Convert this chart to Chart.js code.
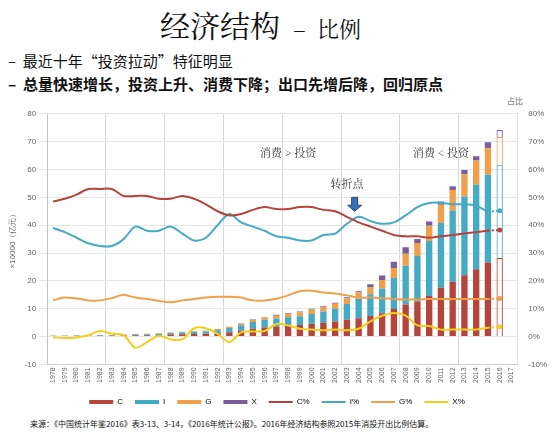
<!DOCTYPE html>
<html><head><meta charset="utf-8">
<script src="https://cdn.jsdelivr.net/npm/chart.js@4/dist/chart.umd.min.js"></script>
<style>
body{margin:0;width:556px;height:432px;background:#fff;font-family:"Noto Sans CJK SC",sans-serif;position:relative;overflow:hidden}
.t{position:absolute;white-space:nowrap;color:#111}
#wrap{position:absolute;left:0;top:106px;width:556px;height:310px}
</style></head><body>
<div class="t" style="left:160px;top:2px;font-size:30px;font-family:'Noto Serif CJK SC','Noto Sans CJK SC';">经济结构 <span style="font-size:22px">&nbsp;–&nbsp; 比例</span></div>
<div class="t" style="left:8px;top:50px;font-size:15px;">–&nbsp;&nbsp;最近十年“投资拉动”特征明显</div>
<div class="t" style="left:8px;top:73px;font-size:15px;font-weight:bold;">–&nbsp;&nbsp;总量快速增长，投资上升、消费下降；出口先增后降，回归原点</div>
<div class="t" style="left:507px;top:95px;font-size:8px;color:#666">占比</div>
<div class="t" style="left:30px;top:418px;font-size:8px;">来源：《中国统计年鉴2016》表3-13、3-14，《2016年统计公报》。2016年经济结构参照2015年消投开出比例估算。</div>
<div id="wrap"><canvas id="c"></canvas></div>
<script>
const years = [];
for (let y = 1978; y <= 2017; y++) years.push(String(y));
const C = [.18,.2,.23,.26,.28,.31,.36,.45,.5,.58,.74,.86,.94,1.05,1.22,1.52,2.1,2.8,3.3,3.6,3.9,4.2,4.65,5.0,5.45,6.0,6.6,7.4,8.4,9.9,11.5,12.6,14.6,17.5,19.7,22.0,24.2,26.6,28.2,null];
const I = [.14,.15,.16,.16,.17,.19,.25,.36,.38,.44,.59,.63,.66,.78,1.08,1.54,1.97,2.4,2.7,2.85,3.0,3.1,3.45,4.0,4.5,5.7,7.0,7.8,8.9,11.1,13.9,16.3,19.7,23.3,25.6,28.3,30.3,31.5,33.5,null];
const G = [.05,.06,.06,.06,.07,.08,.11,.13,.14,.15,.18,.22,.26,.31,.39,.5,.67,.79,.92,1.07,1.26,1.47,1.65,1.74,1.88,2.07,2.27,2.6,3.0,3.6,4.3,4.7,5.5,6.5,7.3,8.0,8.7,9.5,10.0,null];
const X = [0,0,0,.01,.01,.01,0,0,0,0,0,0,.06,.07,.03,0,.07,.11,.14,.36,.34,.25,.25,.25,.3,.32,.45,1.0,1.65,2.3,2.4,1.4,1.5,1.2,1.35,1.5,1.6,2.2,2.5,null];
const Cp = [48.5,49.5,51,53,53,53,50.5,50.5,50.5,49.5,49.5,50.5,49.5,47.5,45,43.5,44,45.5,46.5,45.8,45.8,46.5,46.5,45.5,45,43,41,39.5,38,36.5,36,36,35.5,36,36.5,37,37.5,38,38.3,null];
const Ip = [39,37.5,35.5,33.5,32.5,32.5,35,39.5,38,38,39.5,37,34.5,35.5,40,44,41,39.5,38,36,35.5,34.5,34.5,36.5,37,40.5,43,41.5,40.5,41,43.5,46.5,48,48,47.5,47.5,47,45,45.2,null];
const Gp = [13,14,13.7,13,13,13.8,15,14,13.5,12.8,12.3,13,13.5,14,14.3,14.3,14,13,13,13.6,14.8,16.3,16.5,15.8,15.5,14.8,14,14,13.8,13.5,13.3,13.3,13.5,13.5,13.5,13.5,13.5,13.5,13.7,null];
const Xp = [-0.3,-0.5,-0.3,0.5,2,1,0.5,-4,-2,0.3,-1,-1,3,3,1,-2,1.5,1.8,2,4.5,4,2.8,2.5,2.3,2.5,2.3,2.8,5.5,7.5,8.5,7.5,4,3.8,2.5,2.5,2.5,2.5,3.2,3.5,null];
const notes = [
  { year: '1998', value: 66, text: '消费 > 投资' },
  { year: '2011', value: 66, text: '消费 < 投资' },
  { year: '2003', value: 55, text: '转折点' }
];
const arrowAt = { year: '2004', top: 50, bottom: 45 };

const colC = '#b5443c', colI = '#45aac4', colG = '#f0a04b', colX = '#7a5fa0', colXl = '#f2cf1d';
const last = 38;
const fillOf = (c) => (ctx) => ctx.dataIndex === last ? 'rgba(255,255,255,0)' : c;
function bar(label, data, c) {
  return { type: 'bar', label, data, yAxisID: 'y', stack: 's', backgroundColor: fillOf(c),
    borderColor: c, borderWidth: (ctx) => ctx.dataIndex === last ? 1 : 0, barPercentage: 0.6, categoryPercentage: 0.9, order: 2 };
}
function line(label, data, c, w) {
  return { type: 'line', label, data, yAxisID: 'y2', borderColor: c, backgroundColor: c, borderWidth: w || 2,
    pointRadius: data.map((v, i) => i === last ? 2.5 : 0), pointBorderWidth: 0, tension: 0.3, order: 1,
    segment: { borderDash: (ctx) => ctx.p1DataIndex === last ? [2, 2] : undefined } };
}

const annot = {
  id: 'annot',
  afterDatasetsDraw(chart) {
    const { ctx, scales: { x, y } } = chart;
    ctx.save();
    ctx.fillStyle = '#333';
    ctx.font = '11px "Noto Serif CJK SC","Noto Sans CJK SC"';
    ctx.textAlign = 'center';
    notes.forEach(n => ctx.fillText(n.text, x.getPixelForValue(n.year), y.getPixelForValue(n.value)));
    const ax = x.getPixelForValue(arrowAt.year) - 4, t = y.getPixelForValue(arrowAt.top), b = y.getPixelForValue(arrowAt.bottom);
    ctx.fillStyle = '#3a6fb5'; ctx.strokeStyle = '#24487a'; ctx.lineWidth = 1;
    ctx.beginPath();
    ctx.moveTo(ax - 3, t); ctx.lineTo(ax + 3, t); ctx.lineTo(ax + 3, b - 6); ctx.lineTo(ax + 7, b - 6);
    ctx.lineTo(ax, b); ctx.lineTo(ax - 7, b - 6); ctx.lineTo(ax - 3, b - 6); ctx.closePath();
    ctx.fill(); ctx.stroke();
    ctx.restore();
  }
};

new Chart(document.getElementById('c'), {
  data: {
    labels: years,
    datasets: [
      bar('C', C, colC), bar('I', I, colI), bar('G', G, colG), bar('X', X, colX),
      line('C%', Cp, colC), line('I%', Ip, colI), line('G%', Gp, colG), line('X%', Xp, colXl)
    ]
  },
  options: {
    responsive: true, maintainAspectRatio: false, animation: false,
    layout: { padding: { left: 4, right: 6, top: 6 } },
    plugins: {
      tooltip: { enabled: false },
      legend: {
        position: 'bottom',
        labels: {
          font: { size: 8 }, color: '#333', boxWidth: 22, boxHeight: 4, padding: 12,
          generateLabels: (chart) => chart.data.datasets.map((d, i) => ({
            text: d.label, fillStyle: d.borderColor, strokeStyle: d.borderColor, lineWidth: d.type === 'line' ? 2 : 0,
            pointStyle: d.type === 'line' ? 'line' : 'rect', datasetIndex: i
          })),
          usePointStyle: true, pointStyleWidth: 24
        }
      }
    },
    scales: {
      x: {
        stacked: true,
        grid: { offset: true, color: (c) => (c.index % 5 === 0 ? '#d8d8d8' : 'rgba(0,0,0,0)'), drawTicks: false },
        ticks: { font: { size: 7 }, color: '#666', maxRotation: 90, minRotation: 90, autoSkip: false }
      },
      y: {
        stacked: true, min: -10, max: 80, position: 'left',
        ticks: { stepSize: 10, font: { size: 8 }, color: '#666' },
        grid: { color: '#e6e6e6' },
        title: { display: true, text: '×10000（亿元）', font: { size: 8 }, color: '#666' }
      },
      y2: {
        min: -10, max: 80, position: 'right',
        ticks: { stepSize: 10, font: { size: 8 }, color: '#666', callback: (v) => v + '%' },
        grid: { display: false }
      }
    }
  },
  plugins: [annot]
});
</script>
</body></html>
